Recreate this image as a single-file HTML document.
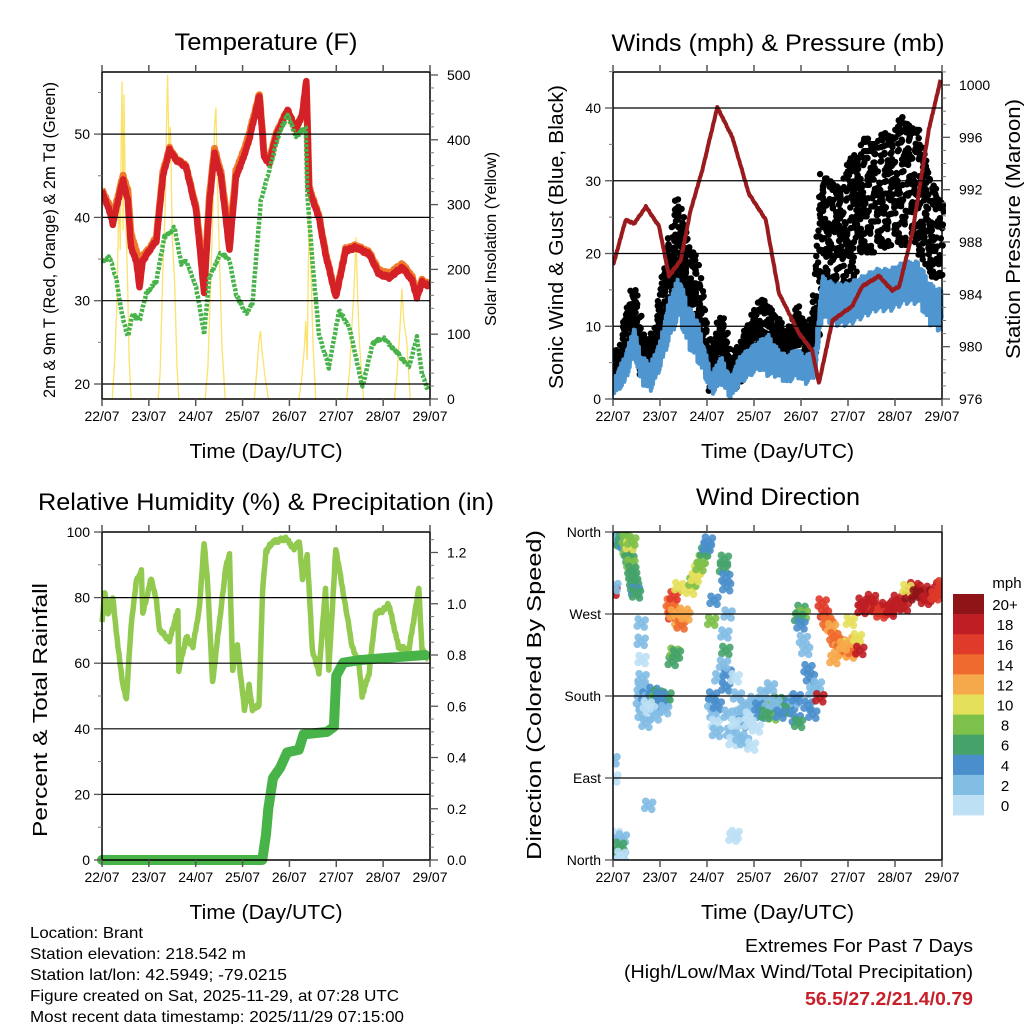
<!DOCTYPE html>
<html><head><meta charset="utf-8">
<style>
html,body{margin:0;padding:0;background:#fff;}
svg{display:block;font-family:"Liberation Sans",sans-serif;}
</style></head>
<body>
<svg id="fig" width="1024" height="1024" viewBox="0 0 1024 1024" xmlns="http://www.w3.org/2000/svg">
<rect width="1024" height="1024" fill="#fff"/>
<g id="gP1"></g>
<g id="gP2"></g>
<g id="gP3"></g>
<g id="gP4"></g>
<g id="gTxt">
<text x="30" y="938" font-size="16" textLength="113" lengthAdjust="spacingAndGlyphs">Location: Brant</text>
<text x="30" y="959" font-size="16" textLength="216" lengthAdjust="spacingAndGlyphs">Station elevation: 218.542 m</text>
<text x="30" y="980" font-size="16" textLength="257" lengthAdjust="spacingAndGlyphs">Station lat/lon: 42.5949; -79.0215</text>
<text x="30" y="1001" font-size="16" textLength="369" lengthAdjust="spacingAndGlyphs">Figure created on Sat, 2025-11-29, at 07:28 UTC</text>
<text x="30" y="1022" font-size="16" textLength="374" lengthAdjust="spacingAndGlyphs">Most recent data timestamp: 2025/11/29 07:15:00</text>
<text x="745" y="952" font-size="18" textLength="228" lengthAdjust="spacingAndGlyphs">Extremes For Past 7 Days</text>
<text x="624" y="978" font-size="18" textLength="349" lengthAdjust="spacingAndGlyphs">(High/Low/Max Wind/Total Precipitation)</text>
<text x="805" y="1005" font-size="18" font-weight="bold" fill="#c8202a" textLength="168" lengthAdjust="spacingAndGlyphs">56.5/27.2/21.4/0.79</text>
</g>
</svg>
<script>
// ---------- data ----------
const dayLabels=["22/07","23/07","24/07","25/07","26/07","27/07","28/07","29/07"];
// Temperature panel
const tempDays=[0,0.16,0.23,0.38,0.45,0.55,0.62,0.73,0.8,0.87,1.01,1.16,1.3,1.44,1.58,1.79,2.01,2.18,2.29,2.4,2.54,2.72,2.86,3.0,3.14,3.36,3.46,3.57,3.71,3.96,4.14,4.28,4.36,4.42,4.63,4.77,4.99,5.2,5.41,5.7,5.91,6.13,6.41,6.62,6.72,6.83,6.96];
const temp2m=[43.1,40.8,39.2,42.9,44.5,42,36.4,34.8,31.6,34.8,36,37.2,44.9,48.1,46.9,46.1,40.8,30.8,41.6,47.7,44.9,36,44.9,46.9,49.3,54.6,47.3,46.5,49.7,52.9,50.5,52.5,56.5,43.3,40,35.6,30.4,36,36.4,35.6,33.2,32.8,34,32.4,30.4,32.2,31.8];
const temp9m=[43.3,41.4,40,43.4,45,43.2,38,36,33,35.4,36.2,37.6,45.4,48.3,47,46.2,41.2,32,42.4,48.2,45.4,37.2,45.6,47.6,50,54.8,47.6,46.8,50,52.9,50.5,52.5,56,43.6,40.2,35.8,30.6,36.2,36.6,35.8,33.6,33.2,34.4,32.8,31,32.4,32];
const dewDays=[0,0.16,0.3,0.41,0.55,0.65,0.8,0.94,1.16,1.33,1.55,1.69,1.8,2.01,2.18,2.29,2.54,2.72,2.86,3.07,3.21,3.39,3.57,3.78,3.96,4.14,4.35,4.38,4.49,4.63,4.84,5.06,5.28,5.56,5.77,5.99,6.27,6.55,6.72,6.83,6.96];
const dewPt=[34.8,35.2,32.8,28.8,25.6,28.4,27.6,30.8,32.4,37.6,38.8,34.4,34.8,31.6,26,32.8,35.8,34.8,30.8,28.4,29.6,42,45.7,50.1,52.3,49.7,50.9,42.9,34.8,26,22,28.8,26.8,19.6,24.8,25.6,24,22,25.6,21.2,19.2];
const solarDays=[0,0.22,0.27,0.32,0.36,0.39,0.41,0.43,0.45,0.47,0.5,0.54,0.58,0.62,1.2,1.24,1.3,1.35,1.38,1.4,1.43,1.46,1.5,1.55,1.6,1.64,2.2,2.26,2.32,2.37,2.4,2.43,2.46,2.5,2.56,2.63,3.25,3.3,3.35,3.38,3.42,3.47,3.55,4.2,4.26,4.32,4.35,4.38,4.42,4.46,4.5,4.56,5.22,5.28,5.34,5.38,5.42,5.46,5.5,5.58,6.24,6.3,6.36,6.4,6.44,6.5,6.58,7.0];
const solar=[0,0,60,150,320,230,400,490,260,470,300,200,60,0,0,40,200,300,440,500,380,420,250,180,50,0,0,50,180,300,420,450,340,240,80,0,0,40,90,105,70,40,0,0,30,80,120,60,290,200,90,0,0,40,120,170,250,150,80,0,0,40,110,170,120,90,0,0];
// Winds panel
const windDays=[0,0.25,0.45,0.6,0.8,1.0,1.2,1.4,1.6,1.8,1.95,2.1,2.3,2.5,2.7,2.9,3.1,3.3,3.5,3.7,3.9,4.1,4.3,4.45,4.7,5.0,5.3,5.6,5.9,6.2,6.5,6.75,7.0];
const gustMean=[3,7,12,6,6,10,17,22,16,14,8,3,9,3,5,7,10,9,8,6,9,7,9,24,21,23,28,28,29,30,29,23,22];
const gustSpread=[1.5,3,4,3,2,3,6,6,5,5,3,2,3,2,3,3,4,4,3,3,4,3,4,8,8,9,8,8,8,9,8,7,5];
const windMean=[1.5,4,8,4,3,6,11,14,10,8,5,2,4,1.5,4,5,6,6,5,4,5,4,5,14,13,13,14,15,15,16,16,13,12];
const windSpread=[1,2,2,2,2,2,3,3,3,3,2,1.5,2,1.5,2,2,2,3,2,2,2,2,2,3,3,3,3,3,3,3,3,3,3];
const presDays=[0,0.27,0.45,0.7,0.98,1.19,1.44,1.65,1.9,2.22,2.54,2.89,3.25,3.53,3.96,4.24,4.38,4.67,5.09,5.3,5.66,5.94,6.09,6.37,6.72,6.97];
const pressure=[986.2,989.7,989.4,990.7,989.2,985.4,986.6,990.4,993.5,998.3,996,991.7,989.7,984.1,981,979.7,977.2,982,983.1,984.6,985.4,984.3,984.6,988.7,996.6,1000.4];
// RH panel
const rhDays=[0,0.06,0.13,0.23,0.34,0.45,0.52,0.62,0.73,0.84,0.87,1.05,1.16,1.23,1.44,1.62,1.64,1.8,1.94,2.08,2.18,2.26,2.36,2.47,2.65,2.72,2.79,2.89,3.04,3.14,3.21,3.35,3.43,3.5,3.64,3.92,4.1,4.21,4.28,4.38,4.49,4.63,4.77,4.84,4.99,5.13,5.34,5.48,5.55,5.7,5.84,5.98,6.12,6.33,6.55,6.65,6.76,6.83,6.97];
const rh=[72,82,75,80,65,53,49,71,85,88,75,86,79,70,67,76,58,68,65,77,97,83,54,68,90,93,58,65,46,53,46,47,83,94,97,98,95,97,86,93,64,57,83,58,95,83,65,60,50,57,75,76,78,65,64,73,83,64,61];
const precipDays=[0,3.42,3.5,3.55,3.65,3.8,3.95,4.2,4.3,4.8,4.95,5.0,5.15,5.5,6.15,6.9];
const precip=[0,0,0.1,0.2,0.32,0.36,0.42,0.43,0.49,0.5,0.52,0.72,0.77,0.78,0.79,0.8];
// Wind direction panel
const dirDays=[0.05,0.08,0.1,0.13,0.15,0.18,0.2,0.25,0.28,0.3,0.33,0.36,0.38,0.4,0.42,0.44,0.46,0.48,0.5,0.36,0.4,
0.6,0.6,0.62,0.62,0.63,0.65,0.6,0.58,0.62,0.66,0.7,0.75,0.8,0.85,0.9,0.95,1.0,1.05,1.1,1.15,0.7,0.8,0.9,1.0,1.1,
1.22,1.25,1.27,1.3,1.26,1.3,1.35,1.4,1.45,1.5,1.55,1.3,1.4,1.65,1.7,1.75,1.8,1.85,1.9,1.95,2.0,2.03,
2.1,2.12,2.15,2.18,2.2,2.22,2.25,2.1,2.15,2.35,2.37,2.4,2.42,2.45,2.38,2.4,2.43,2.35,2.4,2.45,2.5,
2.55,2.6,2.65,2.7,2.75,2.8,2.85,2.9,2.6,2.7,2.8,2.95,3.0,3.1,3.15,3.2,3.3,3.4,3.5,3.6,3.7,3.8,3.85,3.9,3.2,3.3,3.4,3.5,3.6,3.25,3.45,3.55,2.9,3.05,3.35,
3.9,3.95,4.0,4.05,3.95,4.0,4.05,4.1,4.15,4.2,4.25,4.15,4.25,
4.35,4.4,4.45,4.5,4.55,4.6,4.65,4.7,4.75,4.8,4.85,4.9,4.95,5.0,5.05,5.1,5.15,4.7,4.9,5.05,
5.2,5.25,5.3,5.4,5.5,5.6,5.7,5.8,5.9,6.0,6.05,5.3,5.5,5.7,5.9,
6.1,6.2,6.3,6.35,6.4,6.5,6.6,6.7,6.8,6.9,6.95,7.0,6.25,6.45,6.65,6.85,
0.0,0.02,0.05,0.08,0.1,0.12,0.15,0.18,0.2,0.14,0.17,0.0,0.02,0.73,0.76,2.55,2.6];
const dirDeg=[355,357,352,350,356,348,354,346,352,340,337,330,325,318,312,305,300,295,292,345,350,
260,240,220,200,185,170,190,175,160,168,180,176,170,185,175,182,178,172,175,180,150,165,158,180,165,
282,275,268,270,218,228,226,262,258,272,268,290,300,296,305,310,318,322,330,338,344,350,
172,180,160,150,140,170,200,262,285,320,330,310,300,270,248,230,205,215,190,160,140,130,
200,180,160,150,170,165,158,150,135,130,125,175,168,160,172,165,170,168,172,165,170,175,178,182,165,158,175,165,160,172,160,150,145,190,155,150,
275,270,266,258,242,230,210,200,185,170,160,192,178,
282,270,262,258,255,245,240,232,238,228,232,236,226,230,240,220,235,262,244,230,
275,278,282,276,274,278,272,280,286,283,287,270,275,280,278,
290,295,300,293,297,288,292,295,300,302,298,292,285,290,295,300,
28,20,18,12,8,5,24,15,5,110,90,170,60,25,28,30,10];
const dirSpd=[3,2,4,5,3,6,7,4,8,9,6,7,8,6,7,6,7,5,6,10,9,
2,2,1,2,3,4,3,2,2,3,4,3,5,4,8,7,6,5,4,6,2,1,2,4,3,
14,15,16,12,7,8,7,13,14,12,13,17,11,10,9,11,10,9,8,6,5,4,
3,4,2,1,3,4,3,8,4,7,6,5,4,3,2,6,4,3,4,2,3,1,
1,2,3,4,3,2,1,1,2,2,1,3,4,4,5,7,8,7,4,5,4,3,4,3,2,8,7,6,7,3,4,1,1,2,4,
6,7,8,6,4,3,3,4,4,3,4,4,3,
18,17,16,15,14,13,15,14,12,14,13,14,11,13,15,12,13,12,10,11,
18,19,18,17,18,17,18,19,18,19,18,18,17,18,19,
19,20,19,18,20,19,18,20,19,18,17,10,20,19,17,18,
2,1,2,2,1,6,2,2,7,1,2,1,1,2,1,1,0];
const cbLabels=["20+","18","16","14","12","10","8","6","4","2","0"];
const cbColors=["#8e1418","#be1e24","#e03a2a","#ef6a2e","#f6a94a","#e5e05a","#7dc04a","#45a36a","#4a8fcc","#82bde4","#bde0f5"];

// ---------- helpers ----------
const NS="http://www.w3.org/2000/svg";
const JIT=[-0.93,0.41,-0.27,0.88,0.05,-0.62,0.71,-0.11,0.33,-0.79,0.97,-0.45,0.18,-0.98,0.56,-0.05,0.82,-0.36,0.27,-0.71,0.64,-0.19,0.92,-0.55,0.11,-0.87,0.47,-0.31,0.76,0.0,-0.66,0.38,-0.14];
function mk(parent,tag,attrs,txt){const e=document.createElementNS(NS,tag);for(const k in attrs)e.setAttribute(k,attrs[k]);if(txt!==undefined)e.textContent=txt;parent.appendChild(e);return e;}
function scale(d0,d1,r0,r1){return v=>r0+(v-d0)/(d1-d0)*(r1-r0);}
function pathFrom(xs,ys,fx,fy){return xs.map((x,i)=>(i?"L":"M")+fx(x).toFixed(1)+","+fy(ys[i]).toFixed(1)).join("");}
// path with small fixed wobble between data points
function noisyPath(xs,ys,fx,fy,amp,per){let s="";let c=0;
  for(let i=0;i<xs.length-1;i++){const n=Math.max(1,Math.round((xs[i+1]-xs[i])*per));
    for(let k=0;k<n;k++){const f=k/n;const x=xs[i]+f*(xs[i+1]-xs[i]);const y=ys[i]+f*(ys[i+1]-ys[i]);
      s+=(s?"L":"M")+fx(x).toFixed(1)+","+(fy(y)+JIT[(c++)%JIT.length]*amp).toFixed(1);}}
  s+="L"+fx(xs[xs.length-1]).toFixed(1)+","+fy(ys[ys.length-1]).toFixed(1);return s;}

function frame(g,P,yl,yr){
  yl.grid.forEach(v=>{const l=mk(g,"line",{x1:P.x0,x2:P.x1,y1:P.yL(v),y2:P.yL(v),stroke:"#000","stroke-width":1.2});
    
    });
  const fr=mk(g,"rect",{x:P.x0,y:P.y0,width:P.x1-P.x0,height:P.y1-P.y0,fill:"none",stroke:"#000","stroke-width":1.5});
  
  
  dayLabels.forEach((lab,i)=>{const x=P.x(i);
    mk(g,"line",{x1:x,x2:x,y1:P.y1,y2:P.y1+7,stroke:"#555","stroke-width":1.5});
    mk(g,"line",{x1:x,x2:x,y1:P.y0,y2:P.y0-7,stroke:"#555","stroke-width":1.5});
    const t=mk(g,"text",{x:x,y:P.y1+22,"font-size":14,"text-anchor":"middle"},lab);
    
    });
  yl.ticks.forEach(v=>{mk(g,"line",{x1:P.x0-8,x2:P.x0,y1:P.yL(v),y2:P.yL(v),stroke:"#555","stroke-width":1.3});
    const t=mk(g,"text",{x:P.x0-12,y:P.yL(v)+5,"font-size":14,"text-anchor":"end"},yl.fmt?yl.fmt(v):String(v));
    
    });
  (yl.minor||[]).forEach(v=>mk(g,"line",{x1:P.x0-4,x2:P.x0,y1:P.yL(v),y2:P.yL(v),stroke:"#777","stroke-width":1}));
  if(yr){yr.ticks.forEach(v=>{mk(g,"line",{x1:P.x1,x2:P.x1+8,y1:P.yR(v),y2:P.yR(v),stroke:"#555","stroke-width":1.3});
    const t=mk(g,"text",{x:P.x1+17,y:P.yR(v)+5,"font-size":14},yr.fmt?yr.fmt(v):String(v));
    
    });
    (yr.minor||[]).forEach(v=>mk(g,"line",{x1:P.x1,x2:P.x1+4,y1:P.yR(v),y2:P.yR(v),stroke:"#777","stroke-width":1}));}
  const xt=mk(g,"text",{x:(P.x0+P.x1)/2,y:P.y1+59,"font-size":20,"text-anchor":"middle",textLength:153,lengthAdjust:"spacingAndGlyphs"},"Time (Day/UTC)");
  
  
}
function title(g,x,y,len,s){const t=mk(g,"text",{x:x,y:y,"font-size":24,"text-anchor":"middle",textLength:len,lengthAdjust:"spacingAndGlyphs"},s);
  
  }
function vtitle(g,x,yc,len,fs,s,name){const t=mk(g,"text",{x:0,y:0,"font-size":fs,"text-anchor":"middle",transform:`translate(${x},${yc}) rotate(-90)`,textLength:len,lengthAdjust:"spacingAndGlyphs"},s);
  
  }
function rng(a,b,s){const r=[];for(let v=a;v<=b+1e-9;v+=s)r.push(+v.toFixed(3));return r;}

// ---------- Panel 1: Temperature ----------
(function(){
  const g=document.getElementById("gP1");
  const P={x0:102,x1:430,y0:72,y1:399};
  P.x=scale(0,7,P.x0,P.x1);P.yL=scale(20,30,384,300.7);P.yR=scale(0,500,399,75);
  const cp=mk(g,"clipPath",{id:"c1"});mk(cp,"rect",{x:P.x0,y:P.y0,width:P.x1-P.x0,height:P.y1-P.y0});
  const d=mk(g,"g",{"clip-path":"url(#c1)"});
  const sol=mk(d,"path",{d:pathFrom(solarDays,solar,P.x,P.yR),fill:"none",stroke:"#fbe26a","stroke-width":1.3});
  
  
  const o=mk(d,"path",{d:noisyPath(tempDays,temp9m,P.x,P.yL,1.5,60),fill:"none",stroke:"#f07a2a","stroke-width":7,"stroke-linejoin":"round"});
  
  
  const r=mk(d,"path",{d:noisyPath(tempDays,temp2m,P.x,P.yL,1.5,60),fill:"none",stroke:"#d42027","stroke-width":6.5,"stroke-linejoin":"round"});
  
  
  const gr=mk(d,"path",{d:noisyPath(dewDays,dewPt,P.x,P.yL,1.5,60),fill:"none",stroke:"#47b34a","stroke-width":4.5,"stroke-dasharray":"3 1.5","stroke-linejoin":"round"});
  
  
  frame(g,P,{grid:[20,30,40,50],ticks:[20,30,40,50],minor:[25,35,45,55]},{ticks:[0,100,200,300,400,500],minor:rng(20,480,20).filter(v=>v%100)});
  title(g,266,50,183,"Temperature (F)");
  vtitle(g,55,240,316,17,"2m & 9m T (Red, Orange) & 2m Td (Green)","y-axis-title");
  vtitle(g,496,239,174,16,"Solar Insolation (Yellow)","y2-axis-title");
})();

// ---------- Panel 2: Winds ----------
(function(){
  const g=document.getElementById("gP2");
  const P={x0:613,x1:942,y0:72,y1:399};
  P.x=scale(0,7,P.x0,P.x1);P.yL=scale(0,40,399,108);P.yR=scale(976,1000,399,85);
  const cp=mk(g,"clipPath",{id:"c2"});mk(cp,"rect",{x:P.x0,y:P.y0-4,width:P.x1-P.x0+4,height:P.y1-P.y0+8});
  const d=mk(g,"g",{"clip-path":"url(#c2)"});
  const gd=mk(d,"g",{fill:"#000"});
  
  
  let c=0;
  for(let i=0;i<windDays.length-1;i++){const n=Math.round((windDays[i+1]-windDays[i])*90);
    for(let k=0;k<n;k++){const f=k/n;const day=windDays[i]+f*(windDays[i+1]-windDays[i]);
      const m=gustMean[i]+f*(gustMean[i+1]-gustMean[i]),s=gustSpread[i]+f*(gustSpread[i+1]-gustSpread[i]);
      for(let j=0;j<4;j++){const p=JIT[(c*7+j*11)%JIT.length];const px=JIT[(c*5+j*3+4)%JIT.length];c++;
        mk(gd,"circle",{cx:(P.x(day)+px*3).toFixed(1),cy:P.yL(Math.max(0,m+p*s)).toFixed(1),r:3.2});}}}
  let wp="";c=0;
  for(let i=0;i<windDays.length-1;i++){const n=Math.round((windDays[i+1]-windDays[i])*200);
    for(let k=0;k<n;k++){const f=k/n;const day=windDays[i]+f*(windDays[i+1]-windDays[i]);
      const m=windMean[i]+f*(windMean[i+1]-windMean[i]),s=windSpread[i]+f*(windSpread[i+1]-windSpread[i]);
      const p=JIT[(c++*5)%JIT.length];
      wp+=(wp?"L":"M")+P.x(day).toFixed(1)+","+P.yL(Math.max(0,m+p*s)).toFixed(1);}}
  const wl=mk(d,"path",{d:wp,fill:"none",stroke:"#4f96d0","stroke-width":4,"stroke-linejoin":"round"});
  
  
  const pl=mk(d,"path",{d:noisyPath(presDays,pressure,P.x,P.yR,0.8,60),fill:"none",stroke:"#991b1e","stroke-width":4,"stroke-linejoin":"round"});
  
  
  frame(g,P,{grid:[10,20,30,40],ticks:[0,10,20,30,40],minor:[5,15,25,35,45]},{ticks:[976,980,984,988,992,996,1000],minor:rng(977,1001,1).filter(v=>v%4)});
  title(g,778,51,333,"Winds (mph) & Pressure (mb)");
  vtitle(g,563,237,304,20,"Sonic Wind & Gust (Blue, Black)","y-axis-title");
  vtitle(g,1020,229,260,20,"Station Pressure (Maroon)","y2-axis-title");
})();

// ---------- Panel 3: RH & Precip ----------
(function(){
  const g=document.getElementById("gP3");
  const P={x0:102,x1:430,y0:532,y1:860};
  P.x=scale(0,7,P.x0,P.x1);P.yL=scale(0,100,860,532);P.yR=scale(0,0.8,860,655);
  const cp=mk(g,"clipPath",{id:"c3"});mk(cp,"rect",{x:P.x0-6,y:P.y0,width:P.x1-P.x0+12,height:P.y1-P.y0+6});
  const d=mk(g,"g",{"clip-path":"url(#c3)"});
  const rl=mk(d,"path",{d:noisyPath(rhDays,rh,P.x,P.yL,2,50),fill:"none",stroke:"#92c94f","stroke-width":5.5,"stroke-linejoin":"round"});
  
  
  const pr=mk(d,"path",{d:pathFrom(precipDays,precip,P.x,P.yR),fill:"none",stroke:"#48b348","stroke-width":10,"stroke-linejoin":"round","stroke-linecap":"round"});
  
  
  frame(g,P,{grid:[20,40,60,80],ticks:[0,20,40,60,80,100],minor:[10,30,50,70,90]},{ticks:[0,0.2,0.4,0.6,0.8,1.0,1.2],fmt:v=>v.toFixed(1),minor:rng(0.05,1.25,0.05).filter(v=>Math.abs(v*5-Math.round(v*5))>0.01)});
  title(g,266,510,456,"Relative Humidity (%) & Precipitation (in)");
  vtitle(g,47,710,254,20,"Percent & Total Rainfall","y-axis-title");
})();

// ---------- Panel 4: Wind direction ----------
(function(){
  const g=document.getElementById("gP4");
  const P={x0:613,x1:942,y0:532,y1:860};
  P.x=scale(0,7,P.x0,P.x1);P.yL=scale(0,360,860,532);
  const cp=mk(g,"clipPath",{id:"c4"});mk(cp,"rect",{x:P.x0,y:P.y0,width:P.x1-P.x0,height:P.y1-P.y0});
  const d=mk(g,"g",{"clip-path":"url(#c4)","fill-opacity":0.9});
  
  
  const off=[[0,0],[3,4],[-3,-4],[4,-3],[-4,3]];
  dirDays.forEach((day,i)=>{const bin=Math.min(10,Math.floor(dirSpd[i]/2));const col=cbColors[10-bin];
    off.forEach(o=>{mk(d,"circle",{cx:(P.x(day)+o[0]).toFixed(1),cy:(P.yL(dirDeg[i])+o[1]).toFixed(1),r:3.8,fill:col});});});
  frame(g,P,{grid:[90,180,270],ticks:[0,90,180,270,360],fmt:v=>({0:"North",90:"East",180:"South",270:"West",360:"North"})[v]},null);
  title(g,778,505,164,"Wind Direction");
  vtitle(g,541,695,330,20,"Direction (Colored By Speed)","y-axis-title");
  const cb=mk(g,"g",{});
  
  
  cbColors.forEach((c,i)=>{const r=mk(cb,"rect",{x:953,y:594+i*20.1,width:31,height:20.4,fill:c});
    
    
    const t=mk(cb,"text",{x:1005,y:610+i*20.1,"font-size":15,"text-anchor":"middle"},cbLabels[i]);
    
    });
  const u=mk(cb,"text",{x:1007,y:588,"font-size":15,"text-anchor":"middle"},"mph");
  
  
})();
</script>
</body></html>
